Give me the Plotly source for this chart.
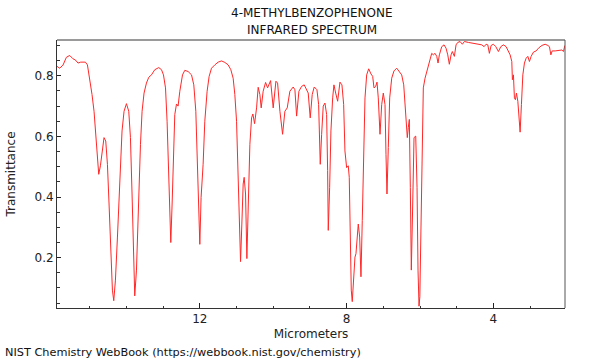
import plotly.graph_objects as go

# Spectrum trace: wavelength (micrometers) and transmittance
micrometers = [
    15.890, 15.817, 15.727, 15.634, 15.544, 15.454, 15.389, 15.318, 15.244, 15.116,
    15.061, 14.999, 14.936, 14.881, 14.843, 14.808, 14.772, 14.753, 14.707, 14.663,
    14.609, 14.562, 14.516, 14.472, 14.426, 14.380, 14.344, 14.298, 14.243, 14.181,
    14.118, 14.063, 13.998, 13.935, 13.889, 13.845, 13.799, 13.772, 13.725, 13.671,
    13.616, 13.572, 13.518, 13.453, 13.390, 13.316, 13.226, 13.117, 13.043, 12.989,
    12.934, 12.891, 12.844, 12.809, 12.790, 12.754, 12.716, 12.681, 12.634, 12.591,
    12.544, 12.471, 12.408, 12.318, 12.225, 12.163, 12.108, 12.073, 12.034, 11.999,
    11.964, 11.909, 11.863, 11.800, 11.745, 11.680, 11.590, 11.500, 11.407, 11.317,
    11.227, 11.154, 11.091, 11.045, 10.998, 10.954, 10.916, 10.889, 10.854, 10.818,
    10.791, 10.753, 10.717, 10.682, 10.635, 10.589, 10.554, 10.507, 10.453, 10.409,
    10.363, 10.327, 10.273, 10.207, 10.153, 10.071, 10.000, 9.926, 9.880, 9.817,
    9.744, 9.681, 9.618, 9.545, 9.455, 9.408, 9.362, 9.299, 9.226, 9.155,
    9.089, 9.046, 8.991, 8.937, 8.882, 8.808, 8.762, 8.718, 8.680, 8.637,
    8.590, 8.544, 8.517, 8.500, 8.462, 8.427, 8.380, 8.345, 8.298, 8.244,
    8.181, 8.127, 8.080, 8.045, 7.999, 7.955, 7.928, 7.900, 7.873, 7.846,
    7.808, 7.772, 7.745, 7.709, 7.682, 7.644, 7.609, 7.573, 7.535, 7.499,
    7.453, 7.398, 7.336, 7.289, 7.254, 7.208, 7.172, 7.137, 7.090, 7.044,
    7.000, 6.954, 6.927, 6.900, 6.864, 6.826, 6.771, 6.709, 6.635, 6.572,
    6.499, 6.444, 6.390, 6.346, 6.319, 6.291, 6.264, 6.237, 6.199, 6.163,
    6.117, 6.081, 6.054, 6.027, 6.005, 5.980, 5.953, 5.910, 5.863, 5.801,
    5.746, 5.681, 5.637, 5.591, 5.544, 5.509, 5.473, 5.408, 5.345, 5.291,
    5.244, 5.201, 5.154, 5.119, 5.064, 5.018, 4.972, 4.909, 4.846, 4.791,
    4.682, 4.546, 4.410, 4.317, 4.254, 4.200, 4.153, 4.110, 4.063, 4.001,
    3.935, 3.864, 3.799, 3.728, 3.654, 3.592, 3.545, 3.499, 3.483, 3.455,
    3.428, 3.401, 3.373, 3.335, 3.300, 3.273, 3.237, 3.199, 3.155, 3.109,
    3.063, 3.019, 2.973, 2.910, 2.836, 2.774, 2.681, 2.591, 2.517, 2.474,
    2.435, 2.400, 2.318, 2.228, 2.136, 2.092, 2.054,
]
transmittance = [
    0.831, 0.825, 0.835, 0.861, 0.867, 0.856, 0.852, 0.842, 0.845, 0.845,
    0.836, 0.792, 0.738, 0.683, 0.618, 0.541, 0.481, 0.475, 0.503, 0.552,
    0.596, 0.585, 0.508, 0.377, 0.213, 0.093, 0.058, 0.126, 0.268, 0.465,
    0.618, 0.683, 0.708, 0.683, 0.596, 0.410, 0.180, 0.074, 0.159, 0.377,
    0.574, 0.683, 0.743, 0.776, 0.795, 0.803, 0.820, 0.827, 0.820, 0.803,
    0.760, 0.650, 0.465, 0.311, 0.250, 0.377, 0.563, 0.672, 0.707, 0.700,
    0.749, 0.803, 0.818, 0.814, 0.803, 0.770, 0.683, 0.541, 0.377, 0.244,
    0.399, 0.508, 0.650, 0.749, 0.798, 0.825, 0.836, 0.845, 0.849, 0.844,
    0.836, 0.820, 0.792, 0.738, 0.650, 0.487, 0.301, 0.187, 0.311, 0.443,
    0.465, 0.410, 0.197, 0.355, 0.574, 0.661, 0.674, 0.642, 0.694, 0.762,
    0.738, 0.694, 0.749, 0.778, 0.760, 0.784, 0.694, 0.782, 0.776, 0.683,
    0.607, 0.683, 0.694, 0.749, 0.763, 0.754, 0.667, 0.749, 0.765, 0.770,
    0.754, 0.743, 0.661, 0.738, 0.763, 0.754, 0.705, 0.508, 0.607, 0.700,
    0.710, 0.672, 0.487, 0.290, 0.432, 0.618, 0.727, 0.770, 0.743, 0.716,
    0.779, 0.770, 0.705, 0.552, 0.497, 0.503, 0.465, 0.268, 0.093, 0.055,
    0.126, 0.202, 0.213, 0.290, 0.311, 0.268, 0.137, 0.323, 0.563, 0.727,
    0.803, 0.823, 0.806, 0.798, 0.760, 0.765, 0.779, 0.727, 0.607, 0.705,
    0.743, 0.705, 0.541, 0.410, 0.563, 0.727, 0.792, 0.816, 0.825, 0.816,
    0.803, 0.770, 0.683, 0.596, 0.629, 0.656, 0.432, 0.159, 0.377, 0.596,
    0.601, 0.432, 0.159, 0.040, 0.071, 0.300, 0.541, 0.760, 0.792, 0.820,
    0.847, 0.874, 0.869, 0.874, 0.864, 0.842, 0.869, 0.896, 0.902, 0.891,
    0.869, 0.838, 0.869, 0.880, 0.864, 0.902, 0.910, 0.913, 0.904, 0.913,
    0.910, 0.907, 0.904, 0.902, 0.896, 0.904, 0.902, 0.874, 0.900, 0.904,
    0.896, 0.880, 0.896, 0.902, 0.896, 0.880, 0.869, 0.847, 0.787, 0.803,
    0.727, 0.721, 0.743, 0.716, 0.639, 0.614, 0.705, 0.803, 0.842, 0.858,
    0.864, 0.847, 0.864, 0.878, 0.882, 0.891, 0.900, 0.904, 0.900, 0.896,
    0.869, 0.882, 0.882, 0.884, 0.885, 0.880, 0.900,
]

x_tick_values = [12, 8, 4]
x_tick_labels = ["12", "8", "4"]
x_minor_ticks = [3, 5, 6, 7, 9, 10, 11, 13, 14, 15]
x_range = [15.89, 2.05]
y_range = [0.034, 0.918]

title_line1 = "4-METHYLBENZOPHENONE"
title_line2 = "INFRARED SPECTRUM"
footer = "NIST Chemistry WebBook (https://webbook.nist.gov/chemistry)"

FONT = "DejaVu Sans"
W, H = 600, 360
L, R, T, B = 57, 35, 40, 52

fig = go.Figure()
fig.add_trace(go.Scatter(
    x=micrometers, y=transmittance, mode="lines",
    line=dict(color="rgb(255,40,40)", width=1),
    hoverinfo="skip", showlegend=False,
))

fig.update_layout(
    width=W, height=H,
    margin=dict(l=L, r=R, t=T, b=B, pad=0, autoexpand=False),
    paper_bgcolor="white", plot_bgcolor="white",
    font=dict(family=FONT, size=12, color="#222"),
    showlegend=False,
    xaxis=dict(
        range=x_range, tickmode="array", tickvals=x_tick_values, ticktext=x_tick_labels,
        ticks="inside", ticklen=5, tickwidth=1, tickcolor="#222",
        showline=True, linecolor="#333", linewidth=1, mirror=False,
        showgrid=False, zeroline=False, automargin=False,
        tickfont=dict(family=FONT, size=12, color="#222"),
        title=dict(text="Micrometers", font=dict(family=FONT, size=12, color="#222"), standoff=4),
        minor=dict(tickmode="array", tickvals=x_minor_ticks, ticks="inside",
                   ticklen=2, tickcolor="#333", showgrid=False),
    ),
    yaxis=dict(
        range=y_range, tickmode="linear", tick0=0, dtick=0.2, tickformat=".1f",
        ticks="inside", ticklen=4, tickwidth=1, tickcolor="#222",
        showline=True, linecolor="#333", linewidth=1, mirror=False,
        showgrid=False, zeroline=False, automargin=False,
        tickfont=dict(family=FONT, size=12, color="#222"),
        title=dict(text="Transmittance", font=dict(family=FONT, size=12, color="#222"), standoff=16),
        minor=dict(dtick=0.05, tick0=0, ticks="inside", ticklen=3, tickcolor="#333", showgrid=False),
    ),
)

# frame: gray top, dark right
fig.add_shape(type="line", xref="paper", yref="paper", x0=0, x1=1, y0=1, y1=1,
              line=dict(color="#9a9a9a", width=2))
fig.add_shape(type="line", xref="paper", yref="paper", x0=1, x1=1, y0=0, y1=1,
              line=dict(color="#555", width=1))

pw = W - L - R
ph = H - T - B
def px(xp):
    return (xp - L) / pw
def py(yp):
    return (H - B - yp) / ph

fig.add_annotation(text=title_line1, xref="paper", yref="paper", x=px(312), y=py(13),
                   showarrow=False, xanchor="center", yanchor="middle",
                   font=dict(family=FONT, size=12, color="#111"))
fig.add_annotation(text=title_line2, xref="paper", yref="paper", x=px(312), y=py(30),
                   showarrow=False, xanchor="center", yanchor="middle",
                   font=dict(family=FONT, size=12, color="#111"))
fig.add_annotation(text=footer, xref="paper", yref="paper", x=px(3), y=py(352),
                   showarrow=False, xanchor="left", yanchor="middle",
                   font=dict(family=FONT, size=11.3, color="#111"))

fig.write_html("out.html", config={"displayModeBar": False, "staticPlot": True},
               post_script="document.body.style.margin='0';document.body.style.padding='0';")
